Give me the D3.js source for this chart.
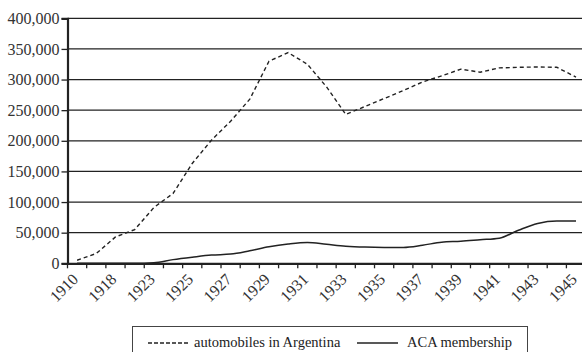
<!DOCTYPE html>
<html>
<head>
<meta charset="utf-8">
<script src="https://cdn.jsdelivr.net/npm/d3@7"></script>
<style>
  body { margin: 0; background: #fff; }
  svg { display: block; }
  svg text { font-family: "Liberation Serif", "DejaVu Serif", serif; }
</style>
</head>
<body>
<div id="chart"></div>
<script>
// categories (uneven early years, then yearly)
const years = ["1910", "1915", "1918", "1921", "1923", "1924", "1925", "1926", "1927", "1928",
    "1929", "1930", "1931", "1932", "1933", "1934", "1935", "1936", "1937", "1938",
    "1939", "1940", "1941", "1942", "1943", "1944", "1945"];

// automobiles in Argentina
const autos = [5000, 16000, 43000, 55000, 91000, 114000, 163000, 201000, 232000, 268000,
    330000, 344000, 325000, 288000, 243000, 256000, 269000, 282000, 296000, 306000,
    317000, 312000, 319000, 320000, 320500, 320000, 304000];

// ACA membership
const aca = [0, 0, 0, 0, 1000, 6000, 10000, 13500, 15000, 20500,
    27000, 31500, 34000, 31000, 28000, 26500, 26000, 26000, 29500, 34500,
    36000, 38500, 41000, 54000, 65000, 69000, 69000];

const yTicks = [0, 50000, 100000, 150000, 200000, 250000, 300000, 350000, 400000];
const labelYears = years.filter((d, i) => i % 2 === 0);

const W = 582, H = 352;
const plotLeft = 67.5, plotRight = 585.6, plotTop = 18.3, plotBottom = 263.3;
const ink = "#222";

let svg = d3.select("#chart")
    .append("svg")
    .attr("width", W)
    .attr("height", H);

let x = d3.scaleBand()
    .domain(years)
    .range([plotLeft, plotRight])
    .padding(0);

let y = d3.scaleLinear()
    .domain([0, 400000])
    .range([plotBottom, plotTop]);

// gridlines
svg.append("g")
    .selectAll("line")
    .data(yTicks.slice(1))
    .enter()
    .append("line")
    .attr("x1", plotLeft)
    .attr("x2", W)
    .attr("y1", d => y(d))
    .attr("y2", d => y(d))
    .attr("stroke", ink)
    .attr("stroke-width", 1.3);

// Y axis
let yAxis = svg.append("g")
    .attr("transform", "translate(" + plotLeft + ",0)")
    .call(d3.axisLeft(y).tickValues(yTicks).tickFormat(d3.format(",")).tickSize(6).tickPadding(2));
yAxis.select(".domain").attr("stroke", ink).attr("stroke-width", 2.2);
yAxis.selectAll(".tick line").attr("stroke", ink).attr("stroke-width", 1.3);
yAxis.selectAll("text")
    .style("font-family", "'Liberation Serif', serif")
    .style("font-size", "16px")
    .attr("fill", "#333");

// X axis: ticks between categories
let xAxis = svg.append("g")
    .attr("transform", "translate(0," + plotBottom + ")")
    .call(d3.axisBottom(x).tickSize(5).tickSizeOuter(0).tickFormat(""));
xAxis.select(".domain").attr("stroke", ink).attr("stroke-width", 2.2);
xAxis.selectAll(".tick line")
    .attr("stroke", ink)
    .attr("stroke-width", 1.3)
    .attr("transform", "translate(" + (-x.bandwidth() / 2) + ",0)");

// rotated year labels, baseline ends just right of the band centre
svg.append("g")
    .selectAll("text")
    .data(labelYears)
    .enter()
    .append("text")
    .attr("transform", d => "translate(" + (x(d) + x.bandwidth() / 2 + 2) + "," + (plotBottom + 17) + ") rotate(-45)")
    .attr("text-anchor", "end")
    .style("font-size", "16px")
    .attr("fill", "#333")
    .text(d => d);

// lines
let lineAutos = d3.line()
    .x((d, i) => x(years[i]) + x.bandwidth() / 2)
    .y(d => y(d));

let lineAca = d3.line()
    .x((d, i) => x(years[i]) + x.bandwidth() / 2)
    .y(d => y(d))
    .curve(d3.curveMonotoneX);

svg.append("path")
    .datum(aca)
    .attr("d", lineAca)
    .attr("fill", "none")
    .attr("stroke", ink)
    .attr("stroke-width", 1.5);

svg.append("path")
    .datum(autos)
    .attr("d", lineAutos)
    .attr("fill", "none")
    .attr("stroke", ink)
    .attr("stroke-width", 1.4)
    .attr("stroke-dasharray", "4,3");

// legend
let legend = svg.append("g");
legend.append("rect")
    .attr("x", 132.5)
    .attr("y", 326.5)
    .attr("width", 395)
    .attr("height", 40)
    .attr("fill", "none")
    .attr("stroke", "#444")
    .attr("stroke-width", 1);

legend.append("line")
    .attr("x1", 148).attr("x2", 189)
    .attr("y1", 343).attr("y2", 343)
    .attr("stroke", ink)
    .attr("stroke-width", 1.3)
    .attr("stroke-dasharray", "4,2");
legend.append("text")
    .attr("x", 194).attr("y", 347)
    .style("font-size", "14.5px")
    .attr("fill", "#222")
    .text("automobiles in Argentina");

legend.append("line")
    .attr("x1", 357).attr("x2", 398)
    .attr("y1", 343).attr("y2", 343)
    .attr("stroke", ink)
    .attr("stroke-width", 1.3);
legend.append("text")
    .attr("x", 407).attr("y", 347)
    .style("font-size", "14.5px")
    .attr("fill", "#222")
    .text("ACA membership");
</script>
</body>
</html>
